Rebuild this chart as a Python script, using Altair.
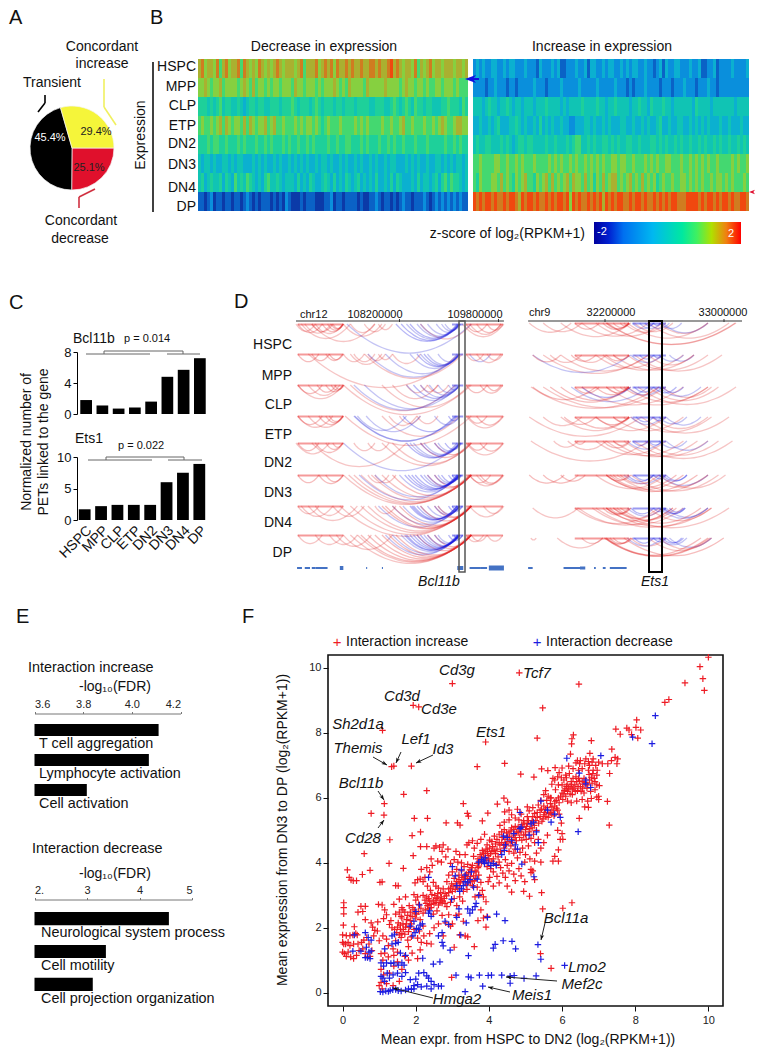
import math
import altair as alt
import pandas as pd

alt.data_transformers.disable_max_rows()
F = "Liberation Sans"
W, H = 747, 1040
PX = alt.Scale(domain=[8, 8 + W], range=[0, W], nice=False, zero=False)
PY = alt.Scale(domain=[8, 8 + H], range=[0, H], nice=False, zero=False)

# ---------- data ----------
PIE_NAMES = ["Concordant decrease", "Transient", "Concordant increase"]
PIE_VALUES = [25.1, 45.4, 29.4]
PIE_COLORS = ["#e0102c", "#000000", "#f5f53a"]

STAGES = ["HSPC", "MPP", "CLP", "ETP", "DN2", "DN3", "DN4", "DP"]
HEAT_LEVELS = list("0123456789a")
HEAT_COLORS = ["#0b3aa8", "#0a62c6", "#0a8fdc", "#0bb0d0", "#10c4b4", "#1ed09a",
               "#44d870", "#86d040", "#aab030", "#d07c20", "#f0480f"]
HEAT_DECREASE = [
    "8978879689 7889698787 9878789878 8878968889 7898979889 8988988998 9889a89878 8796878978 8788878878",
    "7787677867 7776787686 7767677677 7687767776 7677787676 8777768777 7787777678 7767767667 7677767666",
    "5554545645 5445434554 5544555455 5654555456 5455545545 5545555445 5544565456 5465545544 4556555465",
    "6766767868 7677686876 7786786676 6676767767 6567666766 6676767666 6766766786 6766676676 7876678877",
    "5556566556 5556565556 5565655565 6556556565 5556556556 6555656555 6556565565 5565556555 5565565655",
    "4344343344 3434433343 4343343433 4343434334 3443433434 3343433434 3343443334 3434334334 4343434434",
    "4534544535 4364546543 4356445434 4435343543 3454353435 4345343435 3343535433 3435344345 3564655434",
    "1101201101 1011012101 0111010102 1000101110 0011201101 1110100112 1011010121 1011121012 1212121211",
]
HEAT_INCREASE = [
    "2323223322 3233222322 2132223231 1222322313 3223233223 2323322322 1231322332 2232231122 3122223222 23",
    "2222122322 2122122222 3222122223 2222232222 2322222322 2121222322 2212221222 3222122232 2122222222 22",
    "4443454434 4543443444 3444544443 4344445444 4544344544 4434454435 4445443444 4443544443 4444444344 44",
    "3343343453 3344543433 4353434334 3322333443 4334343334 4334334343 3453343344 3343434343 3343343334 33",
    "4544554445 4543455455 4444544544 4545664454 5445545454 4554454445 5454544545 4454454544 5454454454 54",
    "6676666776 6766767666 7666676767 6676766767 6767667767 7667666767 6766776667 6676767676 6766667676 67",
    "6576667768 6765767866 5767868676 7868776867 5768678867 6786768676 7567667667 7676767667 6776767666 76",
    "a9a9aa9a99 a9aa98a9aa 9a99a9a9aa 9a7a9a99a9 a9a8a9a9aa 99a9aa9a99 a9a9a9aa99 9aaaa9a9aa 9a9aa9a99a a9",
]

BCL11B_PETS = [1.8, 1.1, 0.7, 0.85, 1.6, 4.8, 5.7, 7.2]
ETS1_PETS = [1.7, 2.2, 2.4, 2.4, 2.4, 6.0, 7.5, 8.9]

GO_UP = ["T cell aggregation", "Lymphocyte activation", "Cell activation"]
GO_UP_FDR = [4.11, 4.07, 3.815]
GO_DOWN = ["Neurological system process", "Cell motility", "Cell projection organization"]
GO_DOWN_FDR = [4.56, 3.36, 3.11]

# loops on the browser tracks: start/end along the track, by strength
LOOPS_CHR12 = [
    {"r": [245,300, 270,345, 300,380, 380,490, 400,470, 440,500, 480,520, 260,400, 290,470, 720,838, 600,745, 740,830],
     "b": [390,745, 600,710, 620,712, 645,712, 660,712, 670,715, 590,712, 560,710],
     "R": [250,320, 290,350, 320,380, 335,380, 345,378, 350,380, 730,790, 760,830, 790,835],
     "B": [530,708, 545,712, 570,705]},
    {"r": [280,710, 380,440, 410,470, 450,500, 480,520, 520,600, 730,780, 760,830, 790,835, 400,490, 440,720],
     "b": [450,712, 500,712, 570,710, 600,712, 620,712, 650,712, 740,800],
     "R": [250,310, 290,340, 330,378, 340,380],
     "B": [590,705, 610,712]},
    {"r": [380,745, 400,700, 490,740, 520,650, 560,620, 600,650, 620,680, 250,380, 280,370],
     "b": [410,700, 440,712, 560,712, 600,712, 625,712, 650,712, 680,712],
     "R": [250,320, 305,360, 330,380, 345,380, 355,382, 730,790, 770,835, 790,830],
     "B": [580,705]},
    {"r": [385,745, 510,590, 540,600, 590,650, 490,710, 250,350, 280,380, 730,838],
     "b": [410,700, 412,702, 420,560, 445,600, 640,712],
     "R": [250,320, 310,380, 330,380, 340,378, 735,790, 760,835],
     "B": [550,705, 680,712]},
    {"r": [290,560, 410,470, 450,510, 490,745, 520,745, 245,340, 730,838],
     "b": [380,712, 570,712, 580,712, 610,712, 650,712],
     "R": [250,310, 300,380, 330,378, 350,378, 735,790, 770,835, 640,745, 600,740],
     "B": [560,705, 600,715, 640,715, 670,718]},
    {"r": [380,740, 395,745, 410,745, 430,745, 460,745, 490,745, 450,510, 470,530, 760,838, 740,835],
     "b": [425,712, 470,712, 540,712, 610,712, 650,712],
     "R": [640,745, 620,740, 520,745, 250,310, 310,380, 330,380, 740,800, 770,835],
     "B": [555,705, 565,708, 575,705, 585,710, 600,708, 620,712, 640,712, 660,715, 680,715, 690,718]},
    {"r": [260,350, 300,380, 350,440, 370,745, 400,745, 430,745, 450,740, 470,530, 250,310, 740,835, 780,838, 280,420],
     "b": [480,712, 520,712, 550,712, 600,712, 620,712, 650,712],
     "R": [490,745, 500,745, 520,745, 540,745, 600,745, 640,745, 650,745],
     "B": [570,705, 575,705, 580,705, 590,708, 640,712, 680,720, 690,718]},
    {"r": [380,520, 340,420, 250,320, 300,380, 360,460, 400,745, 420,745, 745,790, 730,780, 790,835],
     "b": [500,712, 520,712, 545,712, 610,712, 650,712],
     "R": [430,740, 450,745, 470,745, 490,745, 510,745, 530,745, 590,745, 620,745, 640,745],
     "B": [555,705, 560,708, 570,708, 580,710, 590,708, 600,710, 620,712, 640,712, 680,720, 695,720]},
]
LOOPS_CHR9 = [
    {"r": [910,1030, 950,1060, 1000,1200, 1060,1250, 1100,1290, 1130,1500, 1132,1498, 1190,1420, 1210,1320, 1250,1480, 1280,1420, 1180,1300],
     "b": [1205,1265, 1225,1285, 1250,1310, 1285,1345, 1290,1420],
     "R": [1040,1110, 1120,1195, 1130,1195, 1150,1195, 1170,1195],
     "B": [1240,1265, 1265,1285]},
    {"r": [950,1250, 1000,1250, 1100,1290, 1120,1350, 1150,1380, 1190,1420, 1210,1460, 1040,1130, 970,1060, 1250,1380],
     "b": [920,1200, 1200,1290, 1280,1350, 1310,1380],
     "R": [1030,1100, 1130,1195, 1150,1195, 920,1000],
     "B": [1225,1265, 1265,1290]},
    {"r": [915,1280, 950,1300, 1060,1350, 1130,1420, 1190,1420, 1220,1500, 1250,1450, 1290,1430],
     "b": [1030,1250, 1190,1290, 1280,1400],
     "R": [970,1200, 1000,1195, 1100,1195, 1130,1195, 1150,1195, 1170,1190, 1040,1110, 920,1100, 1180,1280],
     "B": [1060,1200, 1210,1265, 1265,1330, 1290,1350]},
    {"r": [910,1230, 950,1060, 1100,1300, 1150,1350, 1200,1430, 1230,1480, 1260,1420, 1000,1200],
     "b": [1200,1290, 1280,1360, 1300,1400],
     "R": [1040,1195, 1100,1195, 1150,1195, 1180,1195, 1010,1100],
     "B": [1215,1265, 1265,1300]},
    {"r": [915,1250, 980,1050, 1020,1130, 1130,1350, 1150,1390, 1180,1420, 1210,1490, 1240,1450, 1100,1300],
     "b": [1190,1290, 1280,1360, 1300,1420],
     "R": [1040,1070, 1120,1200, 1150,1195],
     "B": [1205,1250, 1250,1290]},
    {"r": [1100,1300, 1250,1420, 1280,1470, 1200,1450, 1160,1420],
     "b": [1180,1290, 1280,1420],
     "R": [910,1010, 950,1050, 1000,1070, 1130,1195, 1150,1200, 1170,1280, 1140,1330, 1130,1350, 1130,1390],
     "B": [1210,1265, 1265,1300, 1290,1360, 1300,1360, 1190,1265]},
    {"r": [920,1050, 1040,1280, 1050,1320, 1090,1350, 1150,1480, 1250,1430, 1100,1420],
     "b": [1190,1290, 1280,1420, 1300,1420],
     "R": [1120,1200, 1130,1195, 1140,1200, 1150,1290, 1160,1330, 1130,1430, 1170,1400, 1130,1320],
     "B": [1200,1265, 1265,1300, 1290,1355, 1295,1355, 1310,1350]},
    {"r": [915,930, 990,1120, 1060,1120, 1200,1300, 1250,1430, 1280,1430],
     "b": [1190,1290, 1280,1360, 1310,1430],
     "R": [1130,1200, 1140,1200, 1150,1205, 1125,1425, 1130,1420, 1180,1465, 1125,1400],
     "B": [1210,1265, 1265,1300, 1290,1345, 1300,1350]},
]
ROW_TOPS_CHR12 = [324, 354, 385, 416, 443, 475, 506, 535]
ROW_TOPS_CHR9 = [323, 355, 387, 417, 441, 475, 508, 538]
# dense short contacts that merge into a strip on top of each track row
STRIPS_CHR12 = [(250, 380, "r"), (730, 835, "r"), (690, 722, "b")]
STRIPS_CHR9 = [(1040, 1195, "r"), (1205, 1300, "b")]
GENE_BLOCKS = [(248,262,2), (270,285,2), (290,300,2), (300,335,2), (370,380,4), (445,448,2), (490,493,2),
               (705,722,4), (740,770,2), (770,790,2), (795,838,5), (907,920,2), (1008,1055,2), (1055,1070,3),
               (1095,1100,2), (1120,1128,2), (1140,1188,2)]

RED_LOW = """0.03,2.77 0.03,2.62 0.03,2.43 0.02,2.08 0.42,2.48 0.5,2.66 0.62,2.66 0.55,2.5 0.62,2.25 0.32,2.03 0.98,2.72 1.08,2.7 1.15,2.55 1.2,2.4 1.12,2.28 1.32,2.22 1.28,2.1 0.78,2.15 0.82,2.02 0.88,1.92 0.96,2.18
0.0,1.78 0.1,1.76 0.2,1.76 0.28,1.78 0.36,1.82 0.4,1.78 0.0,1.55 0.03,1.5 0.08,1.5 0.15,1.55 0.2,1.45 0.3,1.5 0.42,1.5 0.52,1.55 0.58,1.62 0.66,1.7 0.0,1.25 0.05,1.2 0.1,1.12 0.15,1.25 0.22,1.1 0.3,1.05 0.38,1.15 0.45,1.3 0.55,1.35 0.62,1.2 0.68,1.1 0.75,1.12 0.8,1.3 0.72,1.5 0.85,1.75 0.95,1.9 1.0,1.6 1.1,1.75 1.2,1.65 1.25,1.45 1.15,1.22 1.05,1.2 1.1,1.0 1.25,1.1 1.4,1.15 1.5,1.25 1.38,1.35 1.45,1.6 1.6,1.7 1.05,0.72 1.12,0.55 1.05,0.32 1.2,0.28 1.28,0.6 1.4,0.82 1.5,0.95 1.62,0.72 1.55,0.35 1.0,0.22 1.08,0.12 1.38,0.22
1.4,2.72 1.55,2.88 1.62,2.62 1.45,2.42 1.6,2.35 1.52,2.15 1.65,2.12 1.72,2.02 1.58,1.95 1.7,1.8 1.62,1.82 1.8,1.88 1.75,2.25 1.85,2.48 1.92,2.62 1.98,2.45 1.82,2.68 2.0,2.85 2.08,2.72 1.72,2.95 1.95,3.02 2.05,2.95 1.65,2.55 1.78,1.62 1.88,1.72 1.95,1.95 2.05,1.68 1.8,1.42 1.9,1.22 2.12,1.32 2.05,1.05 1.7,1.12 1.8,1.0 2.15,1.55 2.22,1.75 2.3,1.52 2.42,1.5 2.0,2.3 2.12,2.25 2.2,2.05 2.1,1.9"""
RED_MID = """2.2,3.0 2.28,2.75 2.35,2.9 2.42,2.72 2.48,2.85 2.52,3.0 2.55,2.78 2.6,2.92 2.62,2.7 2.68,2.85 2.72,2.76 2.78,2.9 2.8,3.05 2.75,3.2 2.68,3.08 2.62,3.22 2.55,3.28 2.48,3.4 2.4,3.15 2.32,3.28 2.25,3.55 2.2,3.42 2.12,3.5 2.05,3.48 1.98,3.38 2.15,3.8 2.3,3.85 2.38,3.72 2.45,3.92 2.6,4.05 2.7,4.02 2.42,4.12 2.9,2.4 3.0,2.12 2.95,2.05 2.82,2.15 2.72,2.38 2.62,2.12 2.5,2.0 2.38,1.82 2.75,1.75 2.48,2.42 2.58,2.52 2.85,2.65 2.95,2.78 3.05,2.9 3.12,2.68 3.2,2.95 3.28,2.82 3.1,2.38 3.18,2.42 3.3,2.2 3.35,1.75 3.2,1.78 3.42,1.72 3.05,1.4 3.6,1.42 2.9,3.2 2.98,3.35 3.05,3.52 2.9,3.62 2.85,3.42 3.0,3.72 3.12,3.42 3.18,3.62 3.25,3.75 3.32,3.5 3.38,3.65 3.12,3.8 3.2,3.3 3.3,3.12 3.4,3.18 3.45,3.42 3.5,3.58 3.55,3.3 3.6,3.45 3.48,3.78 3.55,3.92 3.42,3.95 3.32,3.88 3.25,4.0 3.15,4.02 3.05,4.1 2.95,3.98 2.82,4.18 2.72,4.35 2.65,4.48 2.55,4.52 2.5,4.45 2.75,4.55 2.88,4.42 3.1,4.35 3.2,4.25 3.35,4.25 3.4,4.55 3.45,4.62 3.55,4.68 3.6,4.45 3.65,3.72 3.7,3.85 3.72,3.62 3.78,3.4 3.68,3.25 3.82,3.15 3.75,3.02 3.85,2.95 3.62,2.95 3.92,2.8 3.78,2.55 3.7,2.22 3.85,2.3 3.95,2.35 3.92,2.02
3.75,4.05 3.8,4.18 3.85,4.3 3.92,4.42 3.98,4.22 4.02,4.45 4.08,4.35 4.12,4.12 4.18,4.28 3.88,3.98 3.95,3.88 4.05,3.82 4.12,3.72 4.2,3.95 4.28,4.02 4.32,3.85 4.38,3.68 4.45,3.55 4.22,3.58 4.28,3.38 4.12,3.28 4.02,3.55 3.98,3.42 4.45,4.1 4.5,3.92 4.55,3.75 4.62,3.98 4.68,3.65 4.72,3.45 4.82,3.82 4.88,3.6 4.98,3.42 4.95,3.12 5.15,3.7 5.2,3.75 4.5,3.28 4.62,3.1 3.58,4.2 3.68,4.6 3.78,4.72 3.88,4.88 3.95,4.55 4.02,4.7 4.08,4.65 4.15,4.82 4.22,4.72 4.3,4.55 4.35,4.62 4.42,4.45 4.48,4.58 4.55,4.35 4.6,4.52 4.68,4.3 4.72,4.42 4.78,4.15 4.85,4.32 4.92,4.45 5.0,4.25 5.08,4.52 5.12,4.12 4.98,4.02 5.25,4.05 5.42,4.02 5.3,4.3 4.28,4.88 4.35,4.95 4.42,5.02 4.5,4.82 4.55,4.95 4.62,5.08 4.68,4.85 4.72,5.12 4.8,4.92 4.85,5.05 4.9,5.18 4.95,4.85 5.0,5.02 5.05,5.2 5.1,4.95 5.18,5.08 5.22,4.88 5.02,4.72 4.9,4.7 4.75,4.68 4.62,4.72 5.15,4.75 5.25,4.62 5.3,5.0 4.3,5.15 4.42,5.25 4.55,5.32 4.62,5.48 4.72,5.38 4.82,5.32 4.88,5.5 4.95,5.3 5.05,5.42 5.1,5.6 5.18,5.3 5.25,5.52 5.32,5.4 5.4,5.62 5.45,5.28 5.5,5.48 5.55,5.65 5.62,5.4 5.68,5.55 5.72,5.72 5.78,5.45 5.35,5.78 5.42,5.92 5.5,5.75 5.2,5.7 5.05,5.72 4.78,5.65 4.55,5.62 5.58,5.92 5.68,6.0 5.8,5.88 5.85,5.68 5.92,5.5 5.98,5.22 5.88,5.0 5.95,4.72 6.0,4.9 5.9,4.4 5.9,4.05 5.75,4.05 5.8,4.2 6.02,4.72 5.6,4.85 5.5,4.62 5.35,4.72 5.42,4.45 5.25,3.48 5.15,3.8"""
RED_RIDGE = """2.25,2.85 2.3,2.95 2.38,2.82 2.44,3.02 2.5,2.75 2.56,2.9 2.6,3.05 2.66,2.78 2.7,2.95 2.74,2.82 2.8,2.75 2.84,2.98 2.9,3.08 2.95,3.22 3.0,3.12 3.02,3.28 3.08,3.18 3.1,3.35 3.15,3.22 3.18,3.48 3.22,3.38 3.26,3.55 3.3,3.42 3.34,3.58 3.38,3.32 3.42,3.52 3.44,3.7 3.5,3.42 3.52,3.85 3.58,3.6 3.62,3.75 3.64,3.52 3.68,3.98 3.7,4.12 3.72,3.9 3.76,4.25 3.8,4.02 3.82,4.38 3.86,4.15 3.9,4.28 3.94,4.08 3.96,4.35 4.0,4.12 4.04,4.28 4.08,4.05 4.1,4.5 4.14,4.38 4.18,4.58 4.22,4.42 4.25,4.18 4.28,4.62 4.32,4.35 4.36,4.78 4.4,4.55 4.44,4.72 4.48,4.92 4.52,4.65 4.56,4.8 4.6,4.98 4.64,4.62 4.68,5.02 4.72,4.78 4.76,4.95 4.8,5.1 4.84,4.78 4.88,4.95 4.92,5.1 4.96,5.22 5.0,4.88 5.03,5.12 5.08,5.3 5.12,5.05 5.16,5.22 5.2,5.42 5.24,5.15 5.28,5.3 5.32,5.55 5.36,5.22 5.4,5.42 5.44,5.65 5.48,5.35 5.52,5.55 5.56,5.42 5.6,5.7 5.64,5.52 5.68,5.82 5.72,5.5 5.76,5.62 5.8,5.75 5.84,5.92 5.88,5.62 5.92,5.85 5.96,6.05 6.02,5.95 6.06,6.22 6.1,6.05 6.14,6.42 6.18,6.3 6.22,6.12 6.26,6.42 6.32,6.3 6.36,6.2 6.4,6.5 6.44,6.35 6.48,6.52 6.52,6.2 6.56,6.3 6.6,6.6 6.64,6.48 6.7,6.4 6.74,6.72 6.8,6.62 6.84,6.75 6.9,6.5 6.96,6.85 1.55,2.48 1.62,2.3 1.7,2.48 1.78,2.38 1.85,2.22 1.9,2.35 1.96,2.55 2.02,2.42 2.08,2.5 2.14,2.6 2.2,2.45 2.26,2.55 2.32,2.68 2.36,2.58 2.42,2.62 1.5,2.02 1.58,2.08 1.66,1.95 1.74,2.12 1.82,2.02 1.88,2.12 1.42,1.95 1.35,2.0 1.48,1.85 1.55,1.78"""
RED_HIGH = """5.9,6.0 6.0,6.15 6.08,6.28 6.15,6.2 6.22,6.35 6.28,6.25 6.35,6.4 6.42,6.22 6.5,6.35 6.55,6.5 6.6,6.42 6.68,6.3 6.75,6.55 6.82,6.45 6.88,6.6 6.95,6.4 7.02,6.38 6.95,6.7 6.85,6.85 6.92,7.0 6.82,7.1 6.72,7.12 6.62,7.05 6.55,6.9 6.45,6.85 6.38,7.08 6.42,7.15 6.3,6.9 6.2,6.75 6.12,6.62 6.05,6.55 5.98,6.62 6.0,6.4 5.9,6.4 5.82,6.25 5.92,6.78 6.0,6.92 6.1,6.7 6.18,6.98 6.25,6.5 6.3,6.6 6.05,6.12 6.15,5.9 6.25,5.85 6.4,5.9 6.55,5.95 6.62,5.72 6.7,5.9 6.8,5.98 6.95,6.02 7.0,6.05 7.0,5.95 6.5,7.15 6.75,7.0 6.85,7.2 7.0,7.1 7.1,7.05 7.25,7.05 7.35,7.15 7.3,6.75 7.45,7.25 7.52,7.2 7.5,7.05 6.9,6.25 6.78,6.2 6.6,6.15 6.28,6.1 6.12,6.35 5.75,6.6 5.7,6.0 5.62,6.05 5.55,6.22 5.5,6.1 5.72,6.42 5.8,6.55 5.88,6.65 6.48,7.05 6.65,7.2 6.72,6.85 6.38,6.65 6.45,6.6"""
RED_OUT = """10.0,10.33 9.77,10.04 9.85,9.67 9.36,9.54 9.89,9.31 6.46,9.5 4.83,9.85 3.0,9.52 1.93,8.85 2.08,8.8 5.47,8.77 8.81,8.94 8.92,9.03 8.04,8.4 8.02,8.17 8.15,8.09 8.07,7.84 7.47,8.12 7.59,7.96 7.77,8.15 7.83,8.09 7.9,7.95 1.09,8.08 3.91,7.72 5.32,7.84 6.27,7.82 6.31,7.94 6.26,7.66 6.23,7.35 6.8,7.76 7.36,7.5 6.76,7.37 1.34,6.96 1.4,6.98 1.88,6.98 3.68,6.96 4.43,7.06 4.87,6.73 5.23,6.64 5.44,6.89 5.61,6.84 5.81,6.93 1.67,6.11 2.3,6.22 1.14,5.82 0.78,5.52 1.13,5.47 1.96,5.37 2.32,5.37 1.29,4.71 0.59,4.28 1.27,3.98 0.13,3.78 0.54,3.64 0.75,3.77 0.18,3.55 0.23,3.47 0.29,3.45 0.38,3.45 1.02,3.4 1.08,3.41 1.45,3.3 1.52,3.29 1.66,3.83 1.93,4.22 1.9,4.84 2.13,4.95 2.13,4.5 2.3,4.5 2.83,5.23 3.14,5.23 3.21,5.16 3.3,5.82 3.41,5.52 3.44,5.44 3.97,5.53 3.82,5.29 4.23,5.81 4.41,5.99 4.51,5.87 4.43,5.57 5.11,2.97 5.44,3.08 5.47,2.58 6.02,2.6 6.27,2.77 5.41,1.2 5.7,0.75 2.98,0.47 7.29,5.16 7.24,5.89 6.72,5.71 6.47,5.37"""
BLUE_LOW = """0.32,1.78 0.62,1.85 0.28,1.28 0.5,1.28 0.62,1.08 0.68,1.08 0.72,1.25 0.78,1.28 0.75,1.05 0.7,1.7 0.78,1.62 0.65,1.4 1.05,0.92 1.12,0.82 1.2,0.92 1.32,0.9 1.4,0.92 1.52,0.85 1.62,0.92 1.68,0.85 1.72,1.15 1.58,1.22 1.35,1.5 1.45,1.52 1.52,1.55 1.35,1.75 1.42,1.8 1.15,1.35 1.05,0.5 1.1,0.45 1.15,0.35 1.22,0.6 1.28,0.45 1.38,0.55 1.5,0.6 1.62,0.5 1.72,0.62 1.85,0.4 2.0,0.42 2.08,0.6 2.22,0.62 2.3,0.52 2.35,0.45 2.42,0.35 2.5,0.25 2.62,0.2 2.42,0.12 2.3,0.2 2.15,0.18 2.05,0.25 1.95,0.22 2.7,0.2
1.03,0.03 1.1,0.02 1.18,0.05 1.25,0.04 1.3,0.07 1.37,0.09 1.45,0.1 1.52,0.06 1.6,0.05 1.72,0.08 1.8,0.12 1.88,0.1 1.95,0.12
2.19,1.06 2.48,0.88 2.66,0.95 2.75,1.44 2.72,1.55 2.94,1.31 3.23,1.78 3.44,1.14 1.85,2.05 1.95,2.2 2.02,1.98 2.12,2.08 2.18,2.12 1.98,1.85 1.92,1.75 2.08,1.95 2.35,2.45 2.38,2.52 2.42,2.35 2.0,2.5 2.1,2.7 2.62,1.75 2.72,1.85 2.8,2.2 2.9,2.1 2.98,2.88 3.12,2.32 3.18,2.58 3.42,2.58 3.48,2.45 3.38,2.15 3.62,2.65 3.72,3.0 3.65,2.75 3.55,2.55 2.35,3.55"""
BLUE_MID = """3.0,3.88 3.08,3.6 3.12,3.3 3.2,3.12 3.25,3.2 3.3,3.3 3.35,3.42 3.42,3.38 3.48,3.48 3.35,3.62 3.25,3.78 3.52,3.72 3.58,3.25 3.68,3.5 3.72,4.02 3.8,4.1 3.85,4.05 3.9,4.15 3.88,3.98 3.98,4.0 4.05,3.92 4.12,3.98 4.2,3.92 4.35,4.25 4.42,4.38 4.45,4.55 4.4,4.82 4.5,4.78 4.62,4.68 4.72,4.55 4.78,4.42 4.68,4.9 4.85,5.05 4.88,5.1 4.85,5.55 5.15,5.2 5.22,5.25 5.3,4.95 5.35,4.62 5.1,4.85 5.42,5.9 5.6,5.62 5.8,5.5 5.95,5.4 5.7,5.25 4.9,3.96 5.23,3.57"""
BLUE_OUT = """8.55,8.53 8.46,7.67 7.93,7.87 6.13,7.22 7.06,7.3 6.47,6.76 6.65,6.55 6.65,6.43 6.78,6.32 6.44,4.96 4.21,2.42 4.44,2.22 3.96,2.32 4.39,1.6 4.63,1.58 4.17,1.49 4.12,1.37 4.73,1.35 5.34,1.48 5.42,1.03 6.07,0.84 3.1,0.54 3.44,0.49 3.51,0.46 3.74,0.54 3.98,0.53 4.07,0.54 4.35,0.54 4.58,0.51 4.69,0.53 4.96,0.44 5.29,0.52 4.58,0.29 3.83,0.2 3.35,0.03"""

# annotations: label, centre in page pixels
GENE_LABELS = [("Cd3g",457,670), ("Tcf7",537,673), ("Cd3d",402,696), ("Cd3e",439,709), ("Sh2d1a",358,724),
               ("Ets1",491,732), ("Lef1",416,739), ("Id3",443,749), ("Themis",358,748), ("Bcl11b",361,783),
               ("Cd28",363,838), ("Bcl11a",566,918), ("Lmo2",587,967), ("Mef2c",582,984), ("Meis1",532,995),
               ("Hmga2",457,999)]
GENE_ARROWS = [(373,757,387,765), (401,752,396,763), (433,755,416,763), (378,791,384,800), (378,828,384,820),
               (545,923,541,940), (557,981,506,977), (510,992,488,987), (433,998,393,988)]


# ---------- helpers ----------
def parse(s):
    return [tuple(float(v) for v in p.split(",")) for p in s.split()]


def txt(rows, size=14, align="center", italic=False, angle=0, color="#111111"):
    df = pd.DataFrame(rows, columns=["t", "x", "y"])
    return alt.Chart(df).mark_text(
        fontSize=size, align=align, baseline="middle", font=F,
        fontStyle="italic" if italic else "normal", angle=angle, color=color
    ).encode(x=alt.X("x:Q", scale=PX, axis=None), y=alt.Y("y:Q", scale=PY, axis=None), text="t:N")


def segs(rows, color="#000000", width=1.0):
    df = pd.DataFrame(rows, columns=["x", "y", "x2", "y2"])
    return alt.Chart(df).mark_rule(color=color, strokeWidth=width).encode(
        x=alt.X("x:Q", scale=PX, axis=None), y=alt.Y("y:Q", scale=PY, axis=None),
        x2="x2:Q", y2="y2:Q")


def heads(rows, color, size, shape="M0,-1L0.75,1L0,0.45L-0.75,1Z"):
    # rows: tail x, tail y, tip x, tip y; the head sits just behind the tip
    recs = []
    r = math.sqrt(size) / 2
    for x0, y0, x1, y1 in rows:
        d = math.hypot(x1 - x0, y1 - y0)
        recs.append({"x": x1 - r * (x1 - x0) / d, "y": y1 - r * (y1 - y0) / d,
                     "a": math.degrees(math.atan2(x1 - x0, -(y1 - y0))) % 360})
    return alt.Chart(pd.DataFrame(recs)).mark_point(
        shape=shape, filled=True, color=color, size=size, opacity=1, strokeWidth=0
    ).encode(x=alt.X("x:Q", scale=PX, axis=None), y=alt.Y("y:Q", scale=PY, axis=None),
             angle=alt.Angle("a:Q", scale=None))


def box(x0, y0, x1, y1, color="#000000", width=1.5):
    df = pd.DataFrame([{"x": x0, "x2": x1, "y": y0, "y2": y1}])
    return alt.Chart(df).mark_rect(filled=False, stroke=color, strokeWidth=width).encode(
        x=alt.X("x:Q", scale=PX, axis=None), y=alt.Y("y:Q", scale=PY, axis=None),
        x2="x2:Q", y2="y2:Q")


layers = []

# ---------- panel letters ----------
layers.append(txt([("A", 9, 18), ("B", 150, 18), ("C", 9, 303), ("D", 234, 302), ("E", 16, 617), ("F", 242, 617)],
                  size=20, align="left"))

# ---------- A ----------
pie = pd.DataFrame({"n": PIE_NAMES, "v": PIE_VALUES, "o": [0, 1, 2]})
layers.append(alt.Chart(pie).mark_arc(outerRadius=42, stroke="#f4f4f4", strokeWidth=0.7).encode(
    x=alt.value(72 - 8), y=alt.value(148 - 8),
    theta=alt.Theta("v:Q", stack=True, scale=alt.Scale(domain=[0, sum(PIE_VALUES)],
                                                        range=[math.pi / 2, math.pi / 2 + 2 * math.pi])),
    order=alt.Order("o:Q"),
    color=alt.Color("n:N", scale=alt.Scale(domain=PIE_NAMES, range=PIE_COLORS), legend=None)))
layers.append(txt([("45.4%", 50, 138)], size=11, color="#ffffff"))
layers.append(txt([("29.4%", 96, 132), ("25.1%", 89, 168)], size=11, color="#222222"))
layers.append(txt([("Concordant", 102, 47), ("increase", 102, 64), ("Transient", 52, 83),
                   ("Concordant", 81, 221), ("decrease", 80, 239)], size=14))
layers.append(segs([(45, 95, 45, 103), (45, 103, 38, 112)], "#000000", 1.6))
layers.append(segs([(104, 79, 104, 107), (104, 107, 116, 125)], "#f0f060", 1.6))
layers.append(segs([(95, 189, 79, 197), (79, 197, 79, 208)], "#d03040", 1.6))

# ---------- B ----------
for strings, col_range in ((HEAT_DECREASE, [198 - 8, 468 - 8]), (HEAT_INCREASE, [473 - 8, 749 - 8])):
    recs = []
    for stage, s in zip(STAGES, strings):
        for i, ch in enumerate(s.replace(" ", "")):
            recs.append({"row": stage, "col": i, "v": ch})
    n = max(r["col"] for r in recs) + 1
    layers.append(alt.Chart(pd.DataFrame(recs)).mark_rect().encode(
        x=alt.X("col:O", axis=None, scale=alt.Scale(domain=list(range(n)), range=col_range, paddingInner=0, paddingOuter=0)),
        y=alt.Y("row:N", axis=None, scale=alt.Scale(domain=STAGES, range=[59 - 8, 211 - 8], paddingInner=0, paddingOuter=0)),
        color=alt.Color("v:N", legend=None, scale=alt.Scale(domain=HEAT_LEVELS, range=HEAT_COLORS))))
layers.append(txt([("Decrease in expression", 324, 47), ("Increase in expression", 602, 47)], size=14))
layers.append(txt([(s, 196, y) for s, y in zip(STAGES, [67, 87, 106, 126, 144, 165, 188, 207])], size=14, align="right"))
layers.append(txt([("Expression", 141, 135)], size=14, angle=270))
layers.append(segs([(153, 62, 153, 212)], "#000000", 1.5))
layers.append(txt([("z-score of log\u2082(RPKM+1)", 585, 234)], size=14, align="right"))
ramp = pd.DataFrame([{"x": 594, "x2": 741, "y": 222, "y2": 244}])
layers.append(alt.Chart(ramp).mark_rect(color=alt.Gradient(
    gradient="linear", x1=0, x2=1, y1=0, y2=0,
    stops=[alt.GradientStop(color=c, offset=o) for o, c in
           [(0, "#00009e"), (0.1, "#0020d0"), (0.2, "#0070f0"), (0.4, "#00b8f0"), (0.6, "#00e8a0"),
            (0.7, "#40f060"), (0.8, "#b0e000"), (0.9, "#f08010"), (1, "#ff0000")]])).encode(
    x=alt.X("x:Q", scale=PX, axis=None), y=alt.Y("y:Q", scale=PY, axis=None), x2="x2:Q", y2="y2:Q"))
layers.append(txt([("-2", 602, 232), ("2", 731, 234)], size=11, color="#ffffff"))
layers.append(segs([(468, 79, 479, 79)], "#1010e0", 2))
layers.append(heads([(479, 79, 465, 79)], "#1010e0", 120))
layers.append(heads([(755, 192, 749, 192)], "#e01030", 36))


# ---------- C ----------
def pets(values, rng, dom, y_rng, ticks, title_axis):
    df = pd.DataFrame({"s": STAGES, "v": values})
    x_axis = alt.Axis(orient="bottom", offset=-(H - (y_rng[0] - 0)), ticks=False, domain=False, title=None,
                      labelAngle=-45, labelFontSize=14, labelFont=F, labelColor="#111111", labelPadding=3,
                      grid=False, labelOverlap=False) if title_axis else None
    return alt.Chart(df).mark_bar(color="#000000").encode(
        x=alt.X("s:N", axis=x_axis, sort=STAGES,
                scale=alt.Scale(domain=STAGES, range=rng, paddingInner=0.28, paddingOuter=0.14)),
        y=alt.Y("v:Q", scale=alt.Scale(domain=dom, range=y_rng, nice=False),
                axis=alt.Axis(orient="left", offset=-69, values=ticks, title=None, grid=False, tickSize=4,
                              labelFontSize=13, labelFont=F, labelColor="#111111", domainColor="#000000",
                              tickColor="#000000", labelPadding=2)))


layers.append(pets(BCL11B_PETS, [70, 200], [0, 8], [406, 344], [0, 4, 8], False))
layers.append(pets(ETS1_PETS, [68.5, 199.5], [0, 10], [512, 449], [0, 5, 10], True))
layers.append(txt([("Bcl11b", 73, 339), ("Ets1", 75, 439)], size=14, align="left"))
layers.append(txt([("p = 0.014", 124, 339), ("p = 0.022", 118, 446)], size=11, align="left"))
layers.append(txt([("Normalized number of", 27, 442), ("PETs linked to the gene", 44, 442)], size=14, angle=270))
layers.append(segs([(104, 351, 183, 351), (86, 354, 150, 354), (167, 354, 200, 354), (104, 351, 104, 354), (183, 351, 183, 354),
                    (106, 457, 184, 457), (88, 460, 152, 460), (168, 460, 202, 460), (106, 457, 106, 460), (184, 457, 184, 460)],
                   "#666666", 1))

# ---------- D ----------
TRACK = alt.Scale(domain=[245, 1517], range=[296 - 8, 742 - 8], nice=False, zero=False)
STYLE_CODES = ["r", "b", "R", "B"]
recs = []
aid = 0
for loops, tops, k in ((LOOPS_CHR12, ROW_TOPS_CHR12, 0.78), (LOOPS_CHR9, ROW_TOPS_CHR9, 0.56)):
    for row, top in zip(loops, tops):
        for code in STYLE_CODES:
            pairs = row[code]
            for a, b in zip(pairs[::2], pairs[1::2]):
                depth = k * ((b - a) * 0.351) ** 0.75
                aid += 1
                for j in range(15):
                    u = j / 7 - 1
                    recs.append({"id": aid, "c": code, "x": (a + b) / 2 + (b - a) / 2 * u,
                                 "y": top + depth * (1 - u * u)})
layers.append(alt.Chart(pd.DataFrame(recs)).mark_line(interpolate="monotone").encode(
    x=alt.X("x:Q", scale=TRACK, axis=None), y=alt.Y("y:Q", scale=PY, axis=None), detail="id:N",
    color=alt.Color("c:N", legend=None, scale=alt.Scale(domain=STYLE_CODES, range=["#e03030", "#3030d8", "#e02020", "#1414e0"])),
    opacity=alt.Opacity("c:N", legend=None, scale=alt.Scale(domain=STYLE_CODES, range=[0.28, 0.3, 0.55, 0.8])),
    strokeWidth=alt.StrokeWidth("c:N", legend=None, scale=alt.Scale(domain=STYLE_CODES, range=[1.3, 1.3, 1.3, 1.8]))))
strip_recs = []
for strips, tops in ((STRIPS_CHR12, ROW_TOPS_CHR12), (STRIPS_CHR9, ROW_TOPS_CHR9)):
    for top in tops:
        for a, b, code in strips:
            strip_recs.append({"x": a, "x2": b, "y": top - 0.5, "y2": top + 1.5, "c": code})
layers.append(alt.Chart(pd.DataFrame(strip_recs)).mark_rect(opacity=0.45).encode(
    x=alt.X("x:Q", scale=TRACK, axis=None), x2="x2:Q", y=alt.Y("y:Q", scale=PY, axis=None), y2="y2:Q",
    color=alt.Color("c:N", legend=None, scale=alt.Scale(domain=["r", "b"], range=["#e82020", "#2020e0"]))))
axis_df = pd.DataFrame([{"x": 245, "x2": 838}, {"x": 907, "x2": 1517}])
layers.append(alt.Chart(axis_df).mark_rule(color="#777777", strokeWidth=1.5).encode(
    x=alt.X("x:Q", scale=TRACK, axis=None), x2="x2:Q", y=alt.datum(321, scale=PY)))
blocks = pd.DataFrame([{"x": a, "x2": b, "y": 568 - h / 2, "y2": 568 + h / 2} for a, b, h in GENE_BLOCKS])
layers.append(alt.Chart(blocks).mark_rect(color="#4472c4").encode(
    x=alt.X("x:Q", scale=TRACK, axis=None), x2="x2:Q", y=alt.Y("y:Q", scale=PY, axis=None), y2="y2:Q"))
layers.append(box(459, 321, 465, 572, "#555555", 1.5))
layers.append(box(649, 321, 662, 572, "#000000", 2))
layers.append(txt([(s, 292, y) for s, y in zip(STAGES, [345, 376, 405, 435, 463, 493, 523, 553])], size=14, align="right"))
layers.append(txt([("chr12", 300, 315), ("chr9", 529, 313)], size=11, align="left"))
layers.append(txt([("108200000", 375, 315), ("109800000", 475, 315), ("32200000", 611, 313), ("33000000", 723, 313)], size=11))
layers.append(segs([(399.5, 319, 399.5, 322), (498.5, 319, 498.5, 322), (605, 319, 605, 322), (724, 319, 724, 322)], "#333333", 1))
layers.append(txt([("Bcl11b", 439, 582), ("Ets1", 655, 582)], size=14, italic=True))


# ---------- E ----------
def go(names, vals, base, dom, rng, y_rng, axis_y, ticks, expr):
    df = pd.DataFrame({"n": names, "v": vals, "b": base})
    return alt.Chart(df).mark_bar(color="#000000").encode(
        x=alt.X("v:Q", scale=alt.Scale(domain=dom, range=rng, nice=False, zero=False),
                axis=alt.Axis(orient="top", offset=-(axis_y - 8), values=ticks, title=None, grid=False, tickSize=2,
                              labelFontSize=11, labelFont=F, labelColor="#222222", domainColor="#777777",
                              tickColor="#777777", labelExpr=expr, labelPadding=2)),
        x2="b:Q",
        y=alt.Y("n:N", axis=None, sort=names,
                scale=alt.Scale(domain=names, range=y_rng, paddingInner=0.6, paddingOuter=0)))


layers.append(go(GO_UP, GO_UP_FDR, 3.6, [3.6, 4.2], [26.5, 172.5], [716, 788], 713.5, [3.6, 3.8, 4.0, 4.2],
                 "format(datum.value, '.1f')"))
layers.append(go(GO_DOWN, GO_DOWN_FDR, 2, [2, 5], [26.5, 184], [904, 983], 899.5, [2, 3, 4, 5],
                 "datum.value == 2 ? '2.' : format(datum.value, 'd')"))
layers.append(txt([("Interaction increase", 28, 668), ("Interaction decrease", 32, 849)], size=14.4, align="left"))
layers.append(txt([("-log\u2081\u2080(FDR)", 115, 687), ("-log\u2081\u2080(FDR)", 115, 874)], size=14))
layers.append(txt([("T cell aggregation", 39, 744), ("Lymphocyte activation", 39, 774), ("Cell activation", 39, 804),
                   ("Neurological system process", 41, 933), ("Cell motility", 41, 966),
                   ("Cell projection organization", 41, 999)], size=14.4, align="left"))

# ---------- F ----------
FX = alt.Scale(domain=[-0.4, 10.4], range=[320, 715], nice=False, zero=False)
FY = alt.Scale(domain=[-0.41, 10.4], range=[998, 647], nice=False, zero=False)
PLUS = "M-1,0L1,0M0,-1L0,1"
red = parse(RED_LOW) + parse(RED_MID) + parse(RED_RIDGE) + parse(RED_HIGH) + parse(RED_OUT)
blue = parse(BLUE_LOW) + parse(BLUE_MID) + parse(BLUE_OUT)
layers.append(box(328, 655, 723, 1006, "#111111", 1.6))
xticks = [0, 2, 4, 6, 8, 10]
layers.append(alt.Chart(pd.DataFrame(red, columns=["x", "y"])).mark_point(
    shape=PLUS, filled=False, color="#ee1c25", size=42, strokeWidth=1.2, opacity=1).encode(
    x=alt.X("x:Q", scale=FX, axis=alt.Axis(orient="bottom", offset=-(H - 998), values=xticks, title=None, grid=False,
                                            domain=False, tickSize=5, labelFontSize=11, labelFont=F,
                                            labelColor="#222222", tickColor="#111111", labelPadding=3)),
    y=alt.Y("y:Q", scale=FY, axis=alt.Axis(orient="left", offset=-320, values=xticks, title=None, grid=False,
                                            domain=False, tickSize=5, labelFontSize=11, labelFont=F,
                                            labelColor="#222222", tickColor="#111111", labelPadding=2))))
layers.append(alt.Chart(pd.DataFrame(blue, columns=["x", "y"])).mark_point(
    shape=PLUS, filled=False, color="#1c1ce0", size=42, strokeWidth=1.2, opacity=1).encode(
    x=alt.X("x:Q", scale=FX, axis=None), y=alt.Y("y:Q", scale=FY, axis=None)))
layers.append(txt(GENE_LABELS, size=15, italic=True))
layers.append(segs(GENE_ARROWS, "#222222", 1))
layers.append(heads(GENE_ARROWS, "#111111", 30))
layers.append(txt([("+", 337, 642)], size=15, color="#ee1c25"))
layers.append(txt([("+", 537, 642)], size=15, color="#1c1ce0"))
layers.append(txt([("Interaction increase", 346, 642), ("Interaction decrease", 546, 642)], size=14, align="left"))
layers.append(txt([("Mean expr. from HSPC to DN2 (log\u2082(RPKM+1))", 528, 1040)], size=14))
layers.append(txt([("Mean expression from DN3 to DP (log\u2082(RPKM+1))", 283, 830)], size=14, angle=270))

chart = alt.layer(*layers).resolve_scale(
    x="independent", y="independent", color="independent", opacity="independent", strokeWidth="independent"
).properties(width=W, height=H, autosize=alt.AutoSizeParams(type="none"), padding=0
).configure_view(stroke=None).configure_axis(grid=False)

chart.save("out.html", embed_options={"renderer": "svg", "actions": False})
